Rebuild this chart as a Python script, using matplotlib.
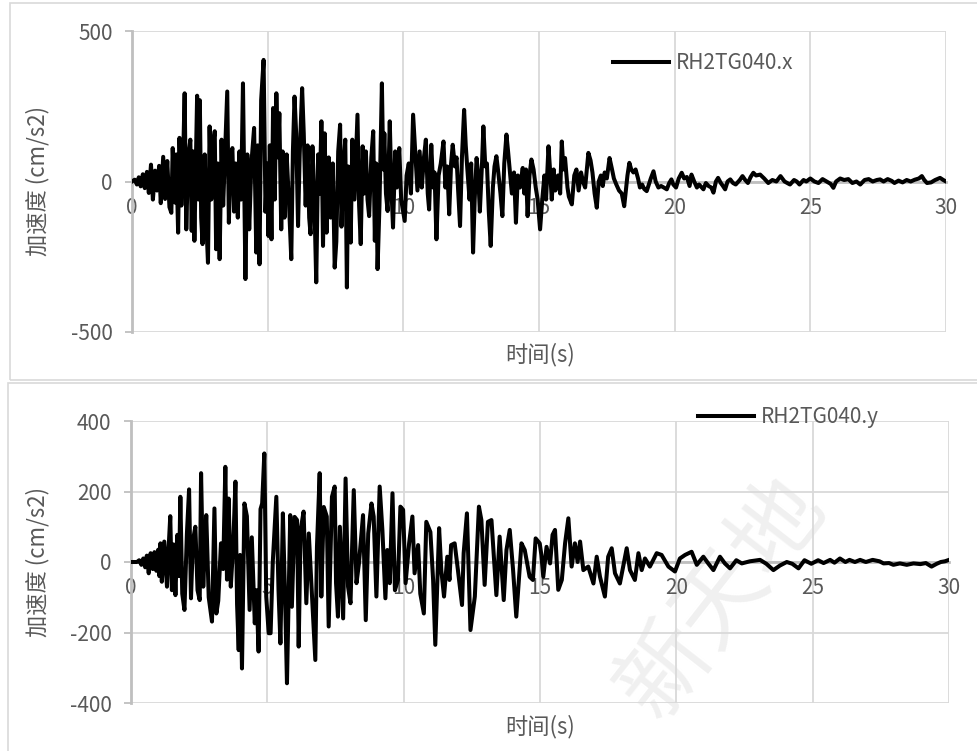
import numpy as np
import matplotlib
matplotlib.use("Agg")
import matplotlib.pyplot as plt
from matplotlib.patches import Rectangle

plt.rcParams['font.family'] = ['Noto Sans CJK SC', 'DejaVu Sans']
plt.rcParams['axes.unicode_minus'] = False

# ---- data: RH2TG040.x (time s, acceleration cm/s2) ----
t_x = [0, 0.1, 0.18, 0.25, 0.32, 0.4, 0.47, 0.55, 0.62, 0.7, 0.77, 0.85, 0.92, 1.0, 1.06, 1.15, 1.22, 1.3, 1.38, 1.45,
       1.5, 1.58, 1.63, 1.7, 1.75, 1.82, 1.88, 1.94, 2.0, 2.07, 2.15, 2.2, 2.25, 2.3, 2.4, 2.45, 2.5, 2.55, 2.6, 2.68,
       2.74, 2.8, 2.86, 2.92, 2.98, 3.05, 3.1, 3.16, 3.23, 3.3, 3.36, 3.43, 3.51, 3.57, 3.63, 3.7, 3.76, 3.82, 3.9, 3.96,
       4.02, 4.09, 4.18, 4.25, 4.32, 4.4, 4.5, 4.58, 4.63, 4.7, 4.76, 4.85, 4.92, 4.98, 5.03, 5.08, 5.14, 5.2, 5.26, 5.32,
       5.38, 5.43, 5.5, 5.55, 5.62, 5.7, 5.78, 5.87, 5.93, 5.99, 6.05, 6.12, 6.18, 6.27, 6.33, 6.4, 6.47, 6.53, 6.58, 6.65,
       6.72, 6.79, 6.86, 6.92, 6.98, 7.04, 7.1, 7.17, 7.25, 7.32, 7.4, 7.47, 7.53, 7.6, 7.67, 7.72, 7.8, 7.86, 7.92, 7.97,
       8.01, 8.06, 8.12, 8.2, 8.31, 8.37, 8.43, 8.5, 8.56, 8.62, 8.68, 8.74, 8.82, 8.89, 8.95, 9.0, 9.05, 9.12, 9.21, 9.26,
       9.3, 9.36, 9.42, 9.5, 9.56, 9.62, 9.7, 9.76, 9.85, 9.92, 10.05, 10.12, 10.2, 10.28, 10.36, 10.45, 10.52, 10.6, 10.68, 10.76,
       10.83, 10.9, 10.95, 11.03, 11.1, 11.15, 11.22, 11.3, 11.38, 11.48, 11.55, 11.62, 11.69, 11.76, 11.82, 11.9, 11.96, 12.02, 12.09, 12.16,
       12.24, 12.3, 12.36, 12.44, 12.5, 12.57, 12.63, 12.7, 12.76, 12.82, 12.9, 12.95, 13.02, 13.08, 13.15, 13.22, 13.3, 13.36, 13.43, 13.5,
       13.58, 13.65, 13.72, 13.8, 13.86, 13.92, 14.0, 14.08, 14.15, 14.22, 14.3, 14.4, 14.46, 14.52, 14.58, 14.65, 14.72, 14.8, 14.88, 14.95,
       15.04, 15.12, 15.2, 15.26, 15.35, 15.42, 15.47, 15.54, 15.6, 15.7, 15.78, 15.84, 15.9, 15.96, 16.05, 16.1, 16.21, 16.3, 16.38, 16.46,
       16.55, 16.62, 16.7, 16.82, 16.9, 16.97, 17.05, 17.13, 17.2, 17.28, 17.35, 17.42, 17.5, 17.6, 17.68, 17.76, 17.85, 17.95, 18.05, 18.14,
       18.2, 18.26, 18.33, 18.4, 18.48, 18.56, 18.65, 18.72, 18.8, 18.88, 18.97, 19.05, 19.12, 19.22, 19.3, 19.4, 19.5, 19.6, 19.71, 19.8,
       19.88, 19.95, 20.05, 20.15, 20.26, 20.35, 20.45, 20.55, 20.62, 20.72, 20.82, 20.9, 21.0, 21.06, 21.15, 21.25, 21.35, 21.43, 21.52, 21.6,
       21.7, 21.78, 21.86, 21.95, 22.05, 22.15, 22.25, 22.4, 22.5, 22.6, 22.7, 22.8, 22.9, 23.0, 23.15, 23.3, 23.45, 23.6, 23.75, 23.9,
       24.05, 24.15, 24.25, 24.4, 24.5, 24.6, 24.75, 24.85, 25.0, 25.15, 25.3, 25.45, 25.6, 25.75, 25.85, 25.95, 26.1, 26.25, 26.4, 26.55,
       26.7, 26.84, 27.0, 27.15, 27.3, 27.45, 27.57, 27.7, 27.85, 28.0, 28.1, 28.25, 28.4, 28.55, 28.7, 28.85, 29.0, 29.11, 29.2, 29.3,
       29.45, 29.6, 29.78, 29.9, 30.0]
acc_x = [0, 6, -10, 14, -16, 24, -22, 32, -38, 56, -60, 36, -30, 52, -72, 82, -58, 68, -85, -104,
         111, -70, 90, -170, 145, -80, 60, 293, -159, 80, 139, -164, 100, -197, 285, -60, 270, -120, -208, 90,
         -140, -270, 183, -60, 120, 167, -225, 60, -258, 139, -80, 100, 299, -137, 80, 111, -100, 60, -120, 100,
         -60, 326, -324, 90, -159, 60, 178, -236, 120, -275, 271, 404, -100, 60, -181, 120, -192, 244, -60, 293,
         80, 227, -159, 100, -120, 90, -60, -258, 100, 282, 160, -148, 90, 310, 160, -80, 120, -120, -175, 117,
         -60, -335, 90, -40, 200, -214, 160, -170, 80, -120, 60, -286, -200, 100, 189, -150, 60, 139, -352, 50,
         -60, -203, 139, -60, 222, -80, -208, 117, -40, 100, -60, -115, 80, 167, -197, 60, -291, -80, 326, 40,
         160, -40, -98, 200, -20, -153, 100, -20, 111, -60, -131, 20, 60, -40, 222, 80, -30, 100, -20, 80,
         139, -40, -93, 122, -20, 30, -192, 20, 60, 133, -20, 50, -109, 60, 122, 50, 80, -30, -148, 80,
         238, 120, 40, -60, 60, -236, -60, 78, 20, -100, 60, 183, 50, 60, -100, -214, -20, 50, 84, 30,
         -40, -115, 60, 156, 100, 40, -40, 30, -137, 20, -20, 45, -40, 40, -115, 20, 73, 40, -20, -60,
         -159, -60, 20, -60, 117, 20, -60, 40, -30, 20, -40, 133, 40, 78, -20, -50, -76, 20, 40, -30,
         30, 0, -20, 95, 70, 30, -40, -87, 0, 20, -15, 30, 10, 78, 45, 10, -10, -30, -40, -82,
         -30, 20, 62, 40, 30, 40, 10, -20, -10, -25, -32, -10, 10, 34, 0, -20, -15, -20, -26, -5,
         7, -10, -20, 10, 29, 10, 15, -15, 23, 0, -20, -10, -20, -26, -5, -15, -20, -37, 0, 12,
         -5, -15, -26, 0, 7, -5, -10, 5, 18, 5, -5, 15, 29, 20, 23, 10, -5, 5, 0, 18,
         0, -5, -10, 5, 0, -10, 5, 0, 10, 0, -5, 8, 0, -8, -21, 0, 10, 5, 8, -5,
         0, -10, 5, 8, 0, 5, 7, 0, 8, 2, -5, 3, -3, 5, 0, 6, 10, 18, 5, -5,
         -3, 5, 12, 5, 0]

# ---- data: RH2TG040.y ----
t_y = [0, 0.22, 0.3, 0.38, 0.45, 0.52, 0.58, 0.65, 0.72, 0.8, 0.86, 0.93, 1.0, 1.04, 1.08, 1.13, 1.22, 1.32, 1.38, 1.44,
       1.5, 1.56, 1.63, 1.7, 1.76, 1.81, 1.88, 1.96, 2.05, 2.13, 2.2, 2.27, 2.36, 2.44, 2.52, 2.57, 2.65, 2.7, 2.76, 2.85,
       2.97, 3.06, 3.13, 3.2, 3.3, 3.38, 3.46, 3.52, 3.58, 3.66, 3.75, 3.83, 3.89, 3.95, 4.0, 4.07, 4.16, 4.25, 4.35, 4.43,
       4.54, 4.6, 4.68, 4.75, 4.81, 4.89, 4.96, 5.05, 5.12, 5.2, 5.33, 5.41, 5.48, 5.57, 5.65, 5.72, 5.84, 5.9, 6.0, 6.09,
       6.15, 6.22, 6.33, 6.43, 6.52, 6.64, 6.76, 6.82, 6.92, 6.98, 7.07, 7.18, 7.25, 7.37, 7.47, 7.52, 7.59, 7.66, 7.78, 7.87,
       7.96, 8.05, 8.17, 8.27, 8.36, 8.51, 8.61, 8.7, 8.82, 8.9, 9.0, 9.12, 9.22, 9.33, 9.4, 9.49, 9.59, 9.68, 9.79, 9.88,
       9.98, 10.07, 10.2, 10.32, 10.4, 10.53, 10.61, 10.74, 10.83, 10.98, 11.08, 11.16, 11.3, 11.38, 11.48, 11.6, 11.68, 11.74, 11.87, 11.99,
       12.14, 12.2, 12.32, 12.45, 12.61, 12.76, 12.85, 12.97, 13.09, 13.22, 13.4, 13.52, 13.67, 13.77, 13.89, 14.01, 14.13, 14.32, 14.44, 14.62,
       14.74, 14.84, 14.99, 15.05, 15.12, 15.24, 15.37, 15.46, 15.55, 15.67, 15.8, 15.92, 16.04, 16.16, 16.28, 16.38, 16.47, 16.59, 16.77, 16.96,
       17.08, 17.2, 17.38, 17.5, 17.63, 17.75, 17.93, 18.18, 18.3, 18.48, 18.61, 18.73, 18.85, 19.03, 19.28, 19.46, 19.71, 19.95, 20.13, 20.32,
       20.56, 20.75, 20.99, 21.17, 21.36, 21.6, 21.78, 21.97, 22.2, 22.4, 22.7, 23.07, 23.3, 23.56, 23.8, 24.05, 24.25, 24.48, 24.7, 24.95,
       25.2, 25.4, 25.64, 25.8, 26.0, 26.2, 26.35, 26.55, 26.74, 26.95, 27.2, 27.45, 27.6, 27.8, 27.96, 28.2, 28.45, 28.7, 28.95, 29.15,
       29.36, 29.55, 29.7, 29.85, 30.0]
acc_y = [0, 0, 5, -8, 10, -15, 18, -32, 25, -20, 28, -25, 35, -40, 53, -56, 58, -70, 40, 130,
         -80, 50, -94, 77, -40, 185, -90, -136, 80, 206, -103, 60, 100, -80, -108, 252, -70, 30, 133, -100,
         -169, 152, -146, -110, 53, -20, 270, -50, 180, -70, 50, 228, -120, -250, 20, -302, 166, 130, -136, 70,
         -174, -80, -254, 150, 166, 308, -98, -202, -202, 0, 185, -80, -231, 138, -98, -344, 133, -127, 128, 119,
         -240, 90, 143, -117, 81, -98, -278, 43, 252, -98, 156, 129, -183, 185, 214, -60, -155, 100, -160, 237,
         -70, -117, 204, -60, -4, 133, -165, 81, 166, 129, -98, 214, 90, -103, 34, -60, 195, -80, -51, 157,
         148, -60, 53, 129, -32, 48, -90, -146, 114, 85, -51, -235, 96, -23, -98, 15, -51, 48, 53, -23,
         -122, 25, 138, -193, -98, 157, 119, -65, 114, 119, -94, 72, -108, 34, 91, -20, -155, 53, 34, -42,
         -51, 67, 53, 20, -42, 43, -4, 77, 91, -79, -51, 53, 124, -13, 53, 0, 58, -23, -13, -61,
         15, -42, -98, 15, 39, -32, -61, 39, -23, -51, 25, -23, 10, -13, 25, 20, -13, -27, 10, 20,
         29, -8, 15, -4, -23, 15, -4, -18, 5, -4, 2, 6, -5, -23, -10, 0, -5, -18, 5, -5,
         5, -3, 6, -2, 10, 0, 6, 0, 6, 0, 6, 2, -4, -3, -8, -4, -8, -4, -6, -3,
         -13, -5, 0, 2, 6]

x_ticks = [0, 5, 10, 15, 20, 25, 30]
y_ticks_top = [-500, 0, 500]
y_ticks_bot = [-400, -200, 0, 200, 400]
series_names = ['RH2TG040.x', 'RH2TG040.y']
x_label = '时间(s)'
y_label = '加速度 (cm/s2)'

W, H = 977, 751
fig = plt.figure(figsize=(W / 100, H / 100), dpi=100)
fig.patch.set_facecolor('white')

GRID = '#d9d9d9'
AXIS = '#bfbfbf'
TXT = '#595959'


def fx(px):
    return px / W


def fy(py):
    return 1 - py / H


# chart frames
fig.patches.append(Rectangle((fx(10), fy(380)), fx(977 - 10) + 0.01, fy(3) - fy(380),
                             transform=fig.transFigure, fill=False, edgecolor=GRID, lw=1.2, zorder=-5))
fig.patches.append(Rectangle((fx(8), fy(760)), fx(977 - 8) + 0.01, fy(383) - fy(760),
                             transform=fig.transFigure, fill=False, edgecolor=GRID, lw=1.2, zorder=-5))

# watermark
fig.text(fx(722), fy(598), '新天地', fontsize=66, color='#f0f0f0', rotation=52,
         ha='center', va='center', zorder=-4)


def make_axes(rect, t, a, yticks, ylim, name, leg_xy, xlab_y):
    ax = fig.add_axes(rect)
    ax.set_facecolor('none')
    ax.plot(t, a, color='black', lw=2.9, solid_joinstyle='round', label=name, zorder=3)
    ax.set_xlim(0, 30)
    ax.set_ylim(*ylim)
    ax.set_xticks(x_ticks)
    ax.set_yticks(yticks)
    ax.set_xticklabels([str(v) for v in x_ticks])
    ax.set_yticklabels([str(v) for v in yticks])
    ax.grid(True, color=GRID, lw=1.3, zorder=0)
    ax.set_axisbelow(True)
    for s in ['top', 'right']:
        ax.spines[s].set_visible(False)
    ax.spines['bottom'].set_position(('data', 0))
    ax.spines['bottom'].set_color(AXIS)
    ax.spines['bottom'].set_linewidth(2.0)
    ax.spines['bottom'].set_zorder(1)
    ax.spines['left'].set_color(AXIS)
    ax.spines['left'].set_linewidth(2.0)
    ax.tick_params(axis='x', length=0, pad=11, labelsize=15, labelcolor=TXT)
    ax.tick_params(axis='y', length=5, width=1.3, color=AXIS, pad=9, labelsize=15, labelcolor=TXT,
                   direction='out')
    for lab in ax.get_xticklabels() + ax.get_yticklabels():
        lab.set_fontweight('light')
    fig.text(fx(38), (rect[1] + rect[3] / 2), y_label, rotation=90, ha='center', va='center',
             fontsize=16, color=TXT, fontweight='light')
    fig.text(fx(540), fy(xlab_y), x_label, ha='center', va='center', fontsize=16, color=TXT,
             fontweight='light')
    leg = ax.legend(loc='center left', bbox_to_anchor=leg_xy, bbox_transform=fig.transFigure,
                    frameon=False, borderaxespad=0, borderpad=0, handlelength=2.7, handletextpad=0.3,
                    fontsize=15, labelcolor=TXT)
    for txt in leg.get_texts():
        txt.set_fontweight('light')
    return ax


ax1 = make_axes([fx(132), fy(332), fx(946) - fx(132), fy(31) - fy(332)], t_x, acc_x,
                y_ticks_top, (-500, 500), series_names[0], (fx(613), fy(63)), 355)
ax2 = make_axes([fx(131), fy(703), fx(949) - fx(131), fy(421) - fy(703)], t_y, acc_y,
                y_ticks_bot, (-400, 400), series_names[1], (fx(698), fy(417)), 727)

fig.savefig('out.png', dpi=100)
